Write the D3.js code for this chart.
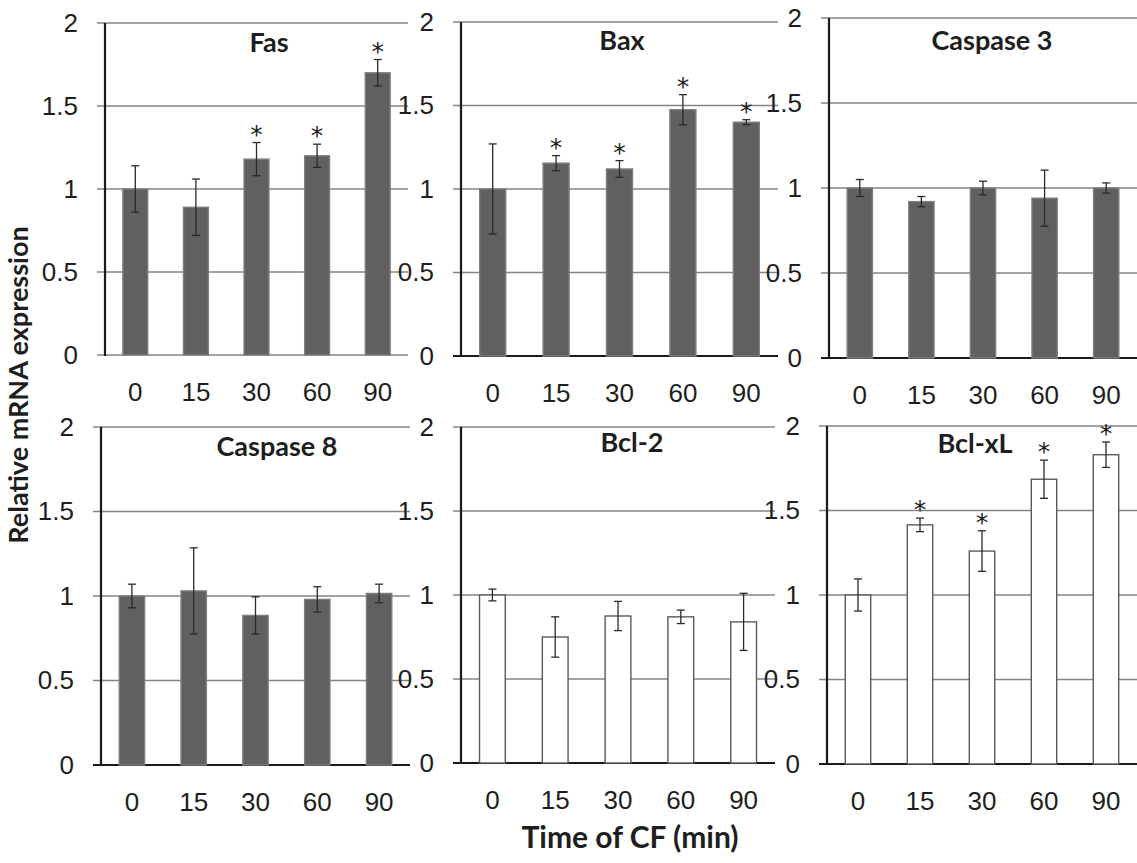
<!DOCTYPE html>
<html>
<head>
<meta charset="utf-8">
<script src="https://cdn.jsdelivr.net/npm/d3@7"></script>
<style>
  html, body { margin: 0; padding: 0; background: #fff; }
  svg { display: block; font-family: Lato, "Open Sans", sans-serif; }
</style>
</head>
<body>
<div id="chart"></div>
<script>
// time points (min)
const times = ["0", "15", "30", "60", "90"];
const yTicks = [0, 0.5, 1, 1.5, 2];

const genes = ["Fas", "Bax", "Caspase 3", "Caspase 8", "Bcl-2", "Bcl-xL"];

const fasMean   = [1.00, 0.89, 1.18, 1.20, 1.70];
const fasErr    = [0.14, 0.17, 0.10, 0.07, 0.08];
const fasSig    = [0, 0, 1, 1, 1];

const baxMean   = [1.00, 1.155, 1.12, 1.475, 1.40];
const baxErr    = [0.27, 0.045, 0.05, 0.09, 0.015];
const baxSig    = [0, 1, 1, 1, 1];

const casp3Mean = [1.00, 0.92, 1.00, 0.94, 1.00];
const casp3Err  = [0.05, 0.03, 0.04, 0.165, 0.03];
const casp3Sig  = [0, 0, 0, 0, 0];

const casp8Mean = [1.00, 1.03, 0.885, 0.98, 1.015];
const casp8Err  = [0.07, 0.255, 0.11, 0.075, 0.055];
const casp8Sig  = [0, 0, 0, 0, 0];

const bcl2Mean  = [1.00, 0.75, 0.875, 0.87, 0.84];
const bcl2Err   = [0.035, 0.12, 0.087, 0.04, 0.17];
const bcl2Sig   = [0, 0, 0, 0, 0];

const bclxlMean = [1.00, 1.415, 1.26, 1.685, 1.83];
const bclxlErr  = [0.095, 0.04, 0.12, 0.113, 0.075];
const bclxlSig  = [0, 1, 1, 1, 1];

// open bars for the anti-apoptotic genes
const openBars  = [false, false, false, false, true, true];

const means = [fasMean, baxMean, casp3Mean, casp8Mean, bcl2Mean, bclxlMean];
const errs  = [fasErr, baxErr, casp3Err, casp8Err, bcl2Err, bclxlErr];
const sigs  = [fasSig, baxSig, casp3Sig, casp8Sig, bcl2Sig, bclxlSig];

// panel frames: left, right, top (y=2), bottom (y=0), title x, title baseline, dark baseline
const layout = [
  { x0: 105, x1: 408,  top: 23,  bottom: 355, tx: 269, ty: 52,  darkBase: false },
  { x0: 461, x1: 778,  top: 22,  bottom: 356, tx: 622, ty: 50,  darkBase: true },
  { x0: 829, x1: 1137, top: 18,  bottom: 358, tx: 992, ty: 50,  darkBase: true },
  { x0: 101, x1: 410,  top: 427, bottom: 765, tx: 277, ty: 456, darkBase: true },
  { x0: 461, x1: 775,  top: 427, bottom: 763, tx: 632, ty: 452, darkBase: true },
  { x0: 827, x1: 1137, top: 426, bottom: 764, tx: 975, ty: 453, darkBase: true }
];

const width = 1137;
const height = 863;

const svg = d3.select("#chart")
  .append("svg")
  .attr("width", width)
  .attr("height", height);

const gridColor = "#858585";
const textColor = "#1e1e1e";
const tickFont = 26;

genes.forEach((gene, i) => {
  const L = layout[i];
  const g = svg.append("g");

  const x = d3.scaleBand()
    .domain(times)
    .range([L.x0, L.x1])
    .paddingInner(0.59)
    .paddingOuter(0.295);

  const y = d3.scaleLinear()
    .domain([0, 2])
    .range([L.bottom, L.top]);

  // gridlines
  g.selectAll("line.grid")
    .data(yTicks)
    .enter()
    .append("line")
    .attr("class", "grid")
    .attr("x1", L.x0 - 8)
    .attr("x2", L.x1)
    .attr("y1", d => y(d))
    .attr("y2", d => y(d))
    .attr("stroke", d => (d === 0 && L.darkBase) ? "#1a1a1a" : gridColor)
    .attr("stroke-width", d => (d === 0 && L.darkBase) ? 2.2 : 1.4);

  // y labels
  const yAxis = d3.axisLeft(y)
    .tickValues(yTicks)
    .tickSize(0)
    .tickPadding(27)
    .tickFormat(d => String(d));

  const yg = g.append("g")
    .attr("transform", `translate(${L.x0},0)`)
    .call(yAxis);
  yg.select(".domain").remove();
  yg.selectAll("text")
    .attr("font-size", tickFont)
    .attr("fill", textColor);

  // x labels
  const xAxis = d3.axisBottom(x).tickSize(0).tickPadding(28);
  const xg = g.append("g")
    .attr("transform", `translate(0,${L.bottom})`)
    .call(xAxis);
  xg.select(".domain").remove();
  xg.selectAll("text")
    .attr("font-size", tickFont)
    .attr("fill", textColor);

  const rows = times.map((t, j) => ({
    t, v: means[i][j], e: errs[i][j], s: sigs[i][j]
  }));

  // bars
  g.selectAll("rect.bar")
    .data(rows)
    .enter()
    .append("rect")
    .attr("class", "bar")
    .attr("x", d => x(d.t))
    .attr("width", x.bandwidth())
    .attr("y", d => y(d.v))
    .attr("height", d => y(0) - y(d.v))
    .attr("fill", openBars[i] ? "#ffffff" : "#606060")
    .attr("stroke", openBars[i] ? "#5a5a5a" : "#7e7e7e")
    .attr("stroke-width", 1.4);

  // y axis line
  g.append("line")
    .attr("x1", L.x0).attr("x2", L.x0)
    .attr("y1", y(2)).attr("y2", y(0) + 1)
    .attr("stroke", "#1a1a1a")
    .attr("stroke-width", 2.2);

  // error bars
  const cap = 4;
  const eb = g.selectAll("g.err")
    .data(rows)
    .enter()
    .append("g")
    .attr("class", "err")
    .attr("stroke", "#2a2a2a")
    .attr("stroke-width", 1.3);

  eb.append("line")
    .attr("x1", d => x(d.t) + x.bandwidth() / 2)
    .attr("x2", d => x(d.t) + x.bandwidth() / 2)
    .attr("y1", d => y(d.v + d.e))
    .attr("y2", d => y(d.v - d.e));
  eb.append("line")
    .attr("x1", d => x(d.t) + x.bandwidth() / 2 - cap)
    .attr("x2", d => x(d.t) + x.bandwidth() / 2 + cap)
    .attr("y1", d => y(d.v + d.e))
    .attr("y2", d => y(d.v + d.e));
  eb.append("line")
    .attr("x1", d => x(d.t) + x.bandwidth() / 2 - cap)
    .attr("x2", d => x(d.t) + x.bandwidth() / 2 + cap)
    .attr("y1", d => y(d.v - d.e))
    .attr("y2", d => y(d.v - d.e));

  // significance stars
  g.selectAll("text.star")
    .data(rows.filter(d => d.s))
    .enter()
    .append("text")
    .attr("class", "star")
    .attr("x", d => x(d.t) + x.bandwidth() / 2)
    .attr("y", d => y(d.v + d.e))
    .attr("text-anchor", "middle")
    .attr("font-family", "'DejaVu Sans', sans-serif")
    .attr("font-size", 25)
    .attr("fill", "#1e1e1e")
    .text("*");

  // panel title
  g.append("text")
    .attr("x", L.tx)
    .attr("y", L.ty)
    .attr("text-anchor", "middle")
    .attr("font-size", 27)
    .attr("font-weight", "bold")
    .attr("fill", textColor)
    .text(gene);
});

// axis titles
svg.append("text")
  .attr("transform", "translate(28,385) rotate(-90)")
  .attr("text-anchor", "middle")
  .attr("font-size", 27)
  .attr("font-weight", "bold")
  .attr("fill", textColor)
  .text("Relative mRNA expression");

svg.append("text")
  .attr("x", 630)
  .attr("y", 848)
  .attr("text-anchor", "middle")
  .attr("font-size", 30)
  .attr("font-weight", "bold")
  .attr("fill", textColor)
  .text("Time of CF (min)");
</script>
</body>
</html>
